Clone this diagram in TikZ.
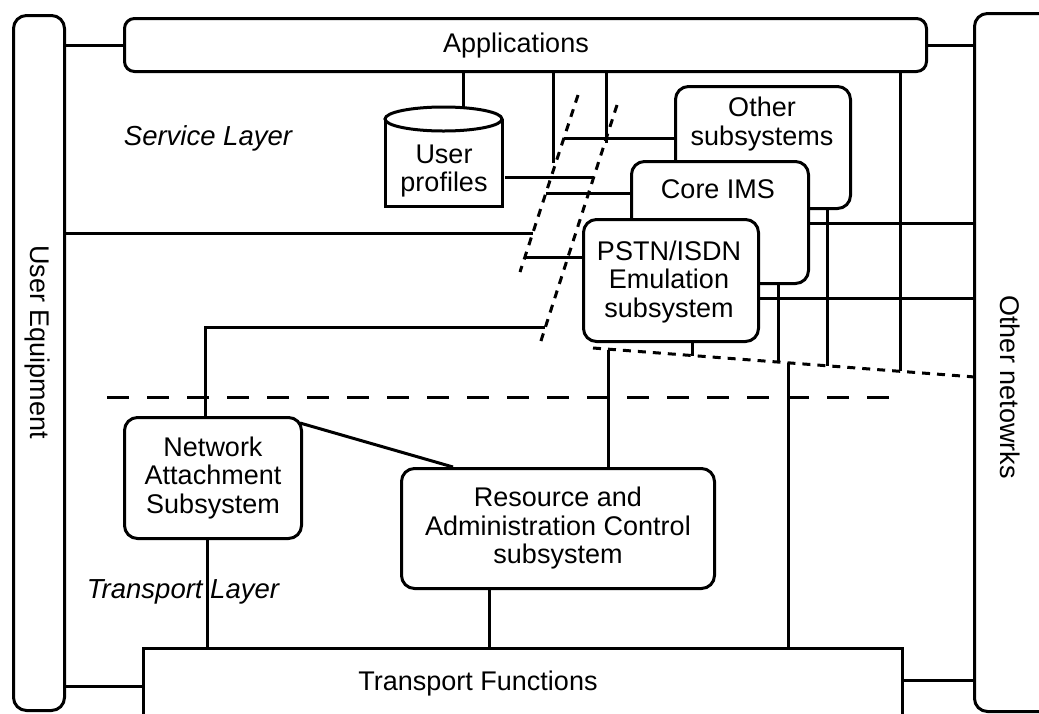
\documentclass[tikz,border=0pt]{standalone}
\usepackage{fontspec}
\setmainfont{Liberation Sans}
\begin{document}
\begin{tikzpicture}[x=1pt,y=-1pt,
  line width=3pt,
  every node/.style={font=\fontsize{27}{28.5}\selectfont},
  blk/.style={draw, fill=white, rounded corners=13pt, inner sep=0pt, anchor=north west, align=center},
  flat/.style={draw, fill=white, inner sep=0pt, anchor=north west},
  tag/.style={inner sep=0pt, align=center},
  layer/.style={inner sep=0pt, font=\fontsize{27.5}{28.5}\selectfont\itshape},
  cut/.style={dash pattern=on 8pt off 7pt},
  border/.style={dash pattern=on 22pt off 18pt}]
\useasboundingbox (0,0) rectangle (1039,713);
\clip (0,0) rectangle (1039,713);

% ---- blocks ----
\node[blk, minimum width=51pt, minimum height=695pt] (ue) at (12,14) {};
\node[blk, rounded corners=10pt, minimum width=802pt, minimum height=53pt] (apps) at (123,17) {};
\node[blk, minimum width=100pt, minimum height=698pt] (onet) at (973,12) {};
\node[flat, minimum width=759pt, minimum height=90pt] (tf) at (142,647) {};

% user profiles store (cylinder)
\node[inner sep=0pt, minimum width=117pt, minimum height=99pt, anchor=north west] (prof) at (385,107) {};

% cut points on the broken lines
\coordinate (a1) at (553,163);
\coordinate (a2) at (564,138);
\coordinate (a3) at (546,193);
\coordinate (a4) at (533,233);
\coordinate (a5) at (525,257);
\coordinate (b1) at (606,143);
\coordinate (b2) at (594,177);
\coordinate (b3) at (545,327);
\coordinate (c0) at (608,349.5);
\coordinate (c1) at (692,355.5);
\coordinate (c2) at (778,362);
\coordinate (c3) at (827,366);
\coordinate (c4) at (900,371);
\coordinate (c5) at (788,363);

% ---- connectors ----
\draw (apps.west) -- (apps.west -| ue.east);
\draw (apps.east) -- (apps.east -| onet.west);
\draw (apps.south -| 463,0) -- (prof.north -| 463,0);
\draw (apps.south -| a1) -- (a1);
\draw (apps.south -| b1) -- (b1);
\draw (apps.south -| c4) -- (c4);
\draw (prof.east |- b2) -- (b2);
\draw (ue.east |- a4) -- (a4);
\draw (ue.east |- 0,686) -- (tf.west |- 0,686);
\draw (tf.east |- 0,680) -- (onet.west |- 0,680);

% ---- service subsystems (stacked) ----
\node[blk, minimum width=175pt, minimum height=122pt] (oth) at (674,85) {};
\node[tag] (othtxt) at (762,124) {Other\\subsystems};
\node[blk, minimum width=177pt, minimum height=122pt] (ims) at (630,160) {};
\node[tag] (imstxt) at (718,189) {Core IMS};
\node[blk, minimum width=175pt, minimum height=122pt] (pstn) at (582,218) {};
\node[tag] (pstntxt) at (669,282) {PSTN/ISDN\\Emulation\\subsystem};

\draw (a2) -- (oth.west |- a2);
\draw (a3) -- (ims.west |- a3);
\draw (a5) -- (pstn.west |- a5);
\draw (ims.east |- 0,223) -- (onet.west |- 0,223);
\draw (pstn.east |- 0,298) -- (onet.west |- 0,298);
\draw (oth.south -| c3) -- (c3);
\draw (ims.south -| c2) -- (c2);
\draw (pstn.south -| c1) -- (c1);

% ---- transport subsystems ----
\node[blk, minimum width=177pt, minimum height=121pt] (nas) at (123,416) {Network\\Attachment\\Subsystem};
\node[blk, minimum width=313pt, minimum height=120pt] (racs) at (400,467) {Resource and\\Administration Control\\subsystem};

\draw (nas.north -| 205,0) |- (b3);
\draw ([shift={(-3,7)}]nas.north east) -- (racs.north -| 453,0);
\draw (c0) -- (racs.north -| c0);
\draw (c5) -- (tf.north -| c5);
\draw (nas.south -| 207,0) -- (tf.north -| 207,0);
\draw (racs.south -| 489,0) -- (tf.north -| 489,0);

% user profiles cylinder outline
\draw[fill=white] (385,119) -- (385,206) -- (502,206) -- (502,119);
\draw[fill=white] (443.5,119) ellipse [x radius=58.5, y radius=12];
\node[tag] (proftxt) at (444,171) {User\\profiles};

% ---- break lines and layer boundary ----
\draw[cut] (578,95) -- (520,272);
\draw[cut] (617,105) -- (539,347);
\draw[cut] (593,348) -- (975,377);
\draw[border] (107,397) -- (897,397);

% ---- labels ----
\node[tag] (appstxt) at (516,46) {Applications};
\node[tag] (tftxt) at (478,684) {Transport Functions};
\node[tag, rotate=-90] (uetxt) at (37,342) {User Equipment};
\node[tag, rotate=-90] (onettxt) at (1010,387) {Other netowrks};
\node[layer] (svc) at (208,138) {Service Layer};
\node[layer] (trn) at (183,592) {Transport Layer};
\end{tikzpicture}
\end{document}
